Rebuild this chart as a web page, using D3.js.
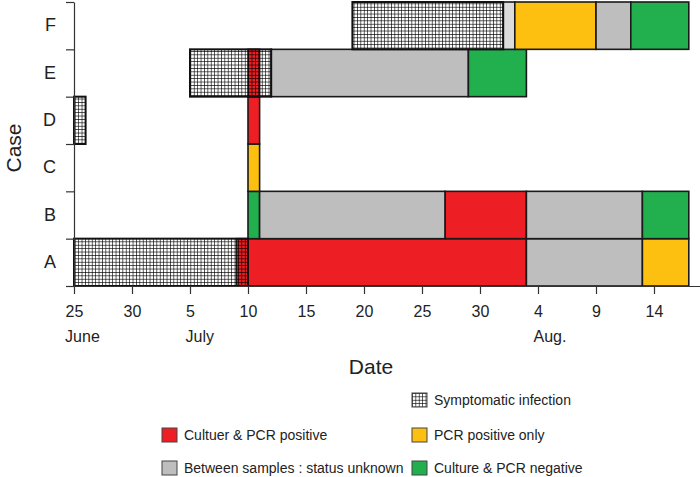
<!DOCTYPE html>
<html>
<head>
<meta charset="utf-8">
<script src="https://cdn.jsdelivr.net/npm/d3@7"></script>
<style>
  body { margin: 0; background: #fff; }
  svg { display: block; font-family: "Liberation Sans", Arial, sans-serif; }
  text { fill: #222; }
</style>
</head>
<body>
<svg id="chart" width="700" height="477"></svg>
<script>
// cases, bottom row first
var cases = ["A", "B", "C", "D", "E", "F"];

// status periods: case, from, to, status
var segments = [
  ["A", "2009-07-09", "2009-08-03", "pos"],
  ["A", "2009-08-03", "2009-08-13", "unk"],
  ["A", "2009-08-13", "2009-08-17", "pcr"],
  ["B", "2009-07-10", "2009-07-11", "neg"],
  ["B", "2009-07-11", "2009-07-27", "unk"],
  ["B", "2009-07-27", "2009-08-03", "pos"],
  ["B", "2009-08-03", "2009-08-13", "unk"],
  ["B", "2009-08-13", "2009-08-17", "neg"],
  ["C", "2009-07-10", "2009-07-11", "pcr"],
  ["D", "2009-07-10", "2009-07-11", "pos"],
  ["E", "2009-07-10", "2009-07-11", "pos"],
  ["E", "2009-07-12", "2009-07-29", "unk"],
  ["E", "2009-07-29", "2009-08-03", "neg"],
  ["F", "2009-08-01", "2009-08-02", "light"],
  ["F", "2009-08-02", "2009-08-09", "pcr"],
  ["F", "2009-08-09", "2009-08-12", "unk"],
  ["F", "2009-08-12", "2009-08-17", "neg"]
];

// symptomatic infection periods (hatched)
var symptomatic = [
  ["A", "2009-06-25", "2009-07-10"],
  ["D", "2009-06-25", "2009-06-26"],
  ["E", "2009-07-05", "2009-07-12"],
  ["F", "2009-07-19", "2009-08-01"]
];

var tickDates = ["2009-06-25", "2009-06-30", "2009-07-05", "2009-07-10", "2009-07-15",
  "2009-07-20", "2009-07-25", "2009-07-30", "2009-08-04", "2009-08-09", "2009-08-14"];
var monthLabels = ["June", "July", "Aug."];
var monthAt = ["2009-06-25", "2009-07-05", "2009-08-04"];

var legendKeys = ["sym", "pos", "pcr", "unk", "neg"];
var legendLabels = ["Symptomatic infection", "Cultuer & PCR positive", "PCR positive only",
  "Between samples : status unknown", "Culture & PCR negative"];

var colors = {pos: "#ED1F24", pcr: "#FEC010", unk: "#BEBEBE", neg: "#22B04F", light: "#DCDCDC"};

var parse = d3.timeParse("%Y-%m-%d");
var svg = d3.select("#chart");

var x = d3.scaleTime()
  .domain([parse("2009-06-25"), parse("2009-08-18")])
  .range([74, 700.4]);

var y = d3.scaleBand()
  .domain(cases.slice().reverse())
  .range([2, 286])
  .padding(0);

// hatch pattern
var defs = svg.append("defs");
var pat = defs.append("pattern")
  .attr("id", "grid")
  .attr("patternUnits", "userSpaceOnUse")
  .attr("width", 3.4).attr("height", 3.4);
pat.append("path")
  .attr("d", "M0,0H3.4M0,0V3.4")
  .attr("stroke", "#000")
  .attr("stroke-width", 1.25);

// bars
svg.append("g").selectAll("rect")
  .data(segments)
  .join("rect")
  .attr("x", function(d){ return x(parse(d[1])); })
  .attr("y", function(d){ return y(d[0]); })
  .attr("width", function(d){ return x(parse(d[2])) - x(parse(d[1])); })
  .attr("height", y.bandwidth())
  .attr("fill", function(d){ return colors[d[3]]; })
  .attr("stroke", "#1a1a1a")
  .attr("stroke-width", 1.6);

svg.append("g").selectAll("rect")
  .data(symptomatic)
  .join("rect")
  .attr("x", function(d){ return x(parse(d[1])); })
  .attr("y", function(d){ return y(d[0]); })
  .attr("width", function(d){ return x(parse(d[2])) - x(parse(d[1])); })
  .attr("height", y.bandwidth())
  .attr("fill", "url(#grid)")
  .attr("stroke", "#111")
  .attr("stroke-width", 2);

// x axis
var xAxis = svg.append("g")
  .attr("transform", "translate(0,286)")
  .call(d3.axisBottom(x)
    .tickValues(tickDates.map(parse))
    .tickFormat(function(d){ return d.getDate(); })
    .tickSize(8)
    .tickSizeOuter(0)
    .tickPadding(12));
xAxis.selectAll("text").attr("font-size", 16).attr("font-family", null);
xAxis.attr("font-family", null);

// month labels start at the left edge of their day label
monthAt.forEach(function(m, i){
  var t = parse(m);
  var node = xAxis.selectAll(".tick").filter(function(d){ return +d === +t; }).select("text").node();
  var bb = node.getBBox();
  svg.append("text")
    .attr("x", x(t) + bb.x)
    .attr("y", 342)
    .attr("font-size", 16)
    .text(monthLabels[i]);
});

// y axis: ticks on row boundaries, labels at centres
var yl = d3.scaleLinear().domain([0, cases.length]).range([286, 2]);
var yAxis = svg.append("g")
  .attr("transform", "translate(74,0)")
  .call(d3.axisLeft(yl).tickValues(d3.range(cases.length + 1)).tickFormat("").tickSize(8).tickSizeOuter(0));
var yLab = svg.append("g")
  .attr("transform", "translate(74,0)")
  .call(d3.axisLeft(y).tickSize(0).tickPadding(18));
yLab.select(".domain").remove();
yLab.attr("font-family", null).selectAll("text").attr("font-size", 18);

svg.selectAll(".domain, .tick line").attr("stroke", "#333").attr("stroke-width", 1.2);

// axis titles
svg.append("text")
  .attr("x", 371).attr("y", 374)
  .attr("text-anchor", "middle")
  .attr("font-size", 21)
  .text("Date");
svg.append("text")
  .attr("transform", "translate(21,148) rotate(-90)")
  .attr("text-anchor", "middle")
  .attr("font-size", 21)
  .text("Case");

// legend
var slotX = [162, 412];
var slotY = [393, 428, 461];
var slots = [[1, 0], [0, 1], [1, 1], [0, 2], [1, 2]];
var leg = svg.append("g").selectAll("g")
  .data(legendKeys)
  .join("g")
  .attr("transform", function(d, i){ return "translate(" + slotX[slots[i][0]] + "," + slotY[slots[i][1]] + ")"; });
leg.append("rect")
  .attr("width", 15).attr("height", 14)
  .attr("fill", function(d){ return d === "sym" ? "url(#grid)" : colors[d]; })
  .attr("stroke", "#444")
  .attr("stroke-width", 1);
leg.append("text")
  .attr("x", 22).attr("y", 12)
  .attr("font-size", 14)
  .text(function(d, i){ return legendLabels[i]; });
</script>
</body>
</html>
